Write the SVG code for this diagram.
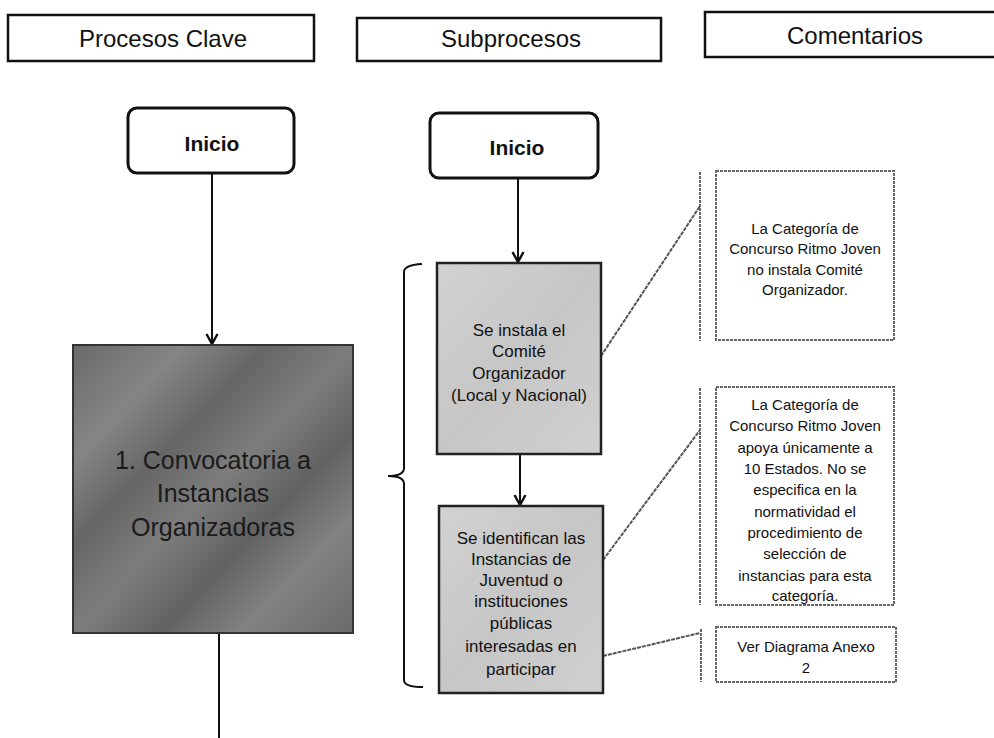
<svg xmlns="http://www.w3.org/2000/svg" width="994" height="738" viewBox="0 0 994 738">
<style>
  .hdr { fill: #ffffff; stroke: #111; stroke-width: 2.5; }
  .hdrt { font-family: "Liberation Sans", Arial, sans-serif; font-size: 24px; fill: #111; text-anchor: middle; }
  .start { fill: #ffffff; stroke: #111; stroke-width: 3; }
  .startt { font-family: "Liberation Sans", Arial, sans-serif; font-size: 21px; font-weight: bold; fill: #111; text-anchor: middle; }
  .big { fill: url(#darkTex); stroke: #333; stroke-width: 2; }
  .bigt { font-family: "Liberation Sans", Arial, sans-serif; font-size: 25px; fill: #1a1a1a; text-anchor: middle; }
  .sub { fill: url(#lightTex); stroke: #222; stroke-width: 2.5; }
  .subt { font-family: "Liberation Sans", Arial, sans-serif; font-size: 17px; fill: #111; text-anchor: middle; }
  .com { fill: #ffffff; stroke: #666; stroke-width: 2; stroke-dasharray: 3 1; }
  .bar { stroke: #666; stroke-width: 2; stroke-dasharray: 3 1; fill: none; }
  .comt { font-family: "Liberation Sans", Arial, sans-serif; font-size: 15px; fill: #111; text-anchor: middle; }
  .conn { stroke: #111; stroke-width: 2; fill: none; }
  .lead { stroke: #555; stroke-width: 2; fill: none; stroke-dasharray: 4 1; }
</style>
<defs>
  <marker id="arr" viewBox="0 0 14 14" refX="12" refY="7" markerWidth="14" markerHeight="14" markerUnits="userSpaceOnUse" orient="auto">
    <polyline points="2,1.5 12,7 2,12.5" fill="none" stroke="#111" stroke-width="2.4"/>
  </marker>
  <linearGradient id="darkTex" x1="0" y1="0" x2="1" y2="1">
    <stop offset="0" stop-color="#6a6a6a"/>
    <stop offset="0.2" stop-color="#858585"/>
    <stop offset="0.35" stop-color="#666"/>
    <stop offset="0.5" stop-color="#7d7d7d"/>
    <stop offset="0.65" stop-color="#626262"/>
    <stop offset="0.8" stop-color="#828282"/>
    <stop offset="1" stop-color="#6a6a6a"/>
  </linearGradient>
  <linearGradient id="lightTex" x1="0" y1="0" x2="1" y2="1">
    <stop offset="0" stop-color="#d2d2d2"/>
    <stop offset="0.5" stop-color="#c6c6c6"/>
    <stop offset="1" stop-color="#d0d0d0"/>
  </linearGradient>
</defs>

<g id="hdr-procesos">
  <rect class="hdr" x="8" y="15" width="306" height="46"/>
  <text class="hdrt" x="163" y="47">Procesos Clave</text>
</g>
<g id="hdr-subprocesos">
  <rect class="hdr" x="357" y="18" width="304" height="43"/>
  <text class="hdrt" x="511" y="47">Subprocesos</text>
</g>
<g id="hdr-comentarios">
  <rect class="hdr" x="705" y="12" width="292" height="45"/>
  <text class="hdrt" x="855" y="44">Comentarios</text>
</g>

<g id="connectors">
  <line class="conn" x1="212" y1="173" x2="212" y2="344" marker-end="url(#arr)"/>
  <line class="conn" x1="219" y1="633" x2="219" y2="738"/>
  <line class="conn" x1="518" y1="178" x2="518" y2="262" marker-end="url(#arr)"/>
  <line class="conn" x1="520" y1="454" x2="520" y2="505" marker-end="url(#arr)"/>
  <path class="conn" d="M422,264 Q404,265 404,272 L404,468 Q404,476 388,476 Q404,476 404,484 L404,680 Q404,687 423,687"/>
  <line class="lead" x1="601" y1="356" x2="700" y2="206"/>
  <line class="lead" x1="603" y1="560" x2="700" y2="430"/>
  <line class="lead" x1="603" y1="656" x2="700" y2="633"/>
</g>

<g id="inicio-1">
  <rect class="start" x="128" y="108" width="166" height="65" rx="9"/>
  <text class="startt" x="212" y="151">Inicio</text>
</g>
<g id="inicio-2">
  <rect class="start" x="430" y="113" width="168" height="65" rx="9"/>
  <text class="startt" x="517" y="155">Inicio</text>
</g>

<g id="proceso-1">
  <rect class="big" x="73" y="345" width="280" height="288"/>
  <text class="bigt" x="213" y="469">1. Convocatoria a</text>
  <text class="bigt" x="213" y="502">Instancias</text>
  <text class="bigt" x="213" y="536">Organizadoras</text>
</g>

<g id="sub-1">
  <rect class="sub" x="437" y="263" width="164" height="191"/>
  <text class="subt" x="519" y="336">Se instala el</text>
  <text class="subt" x="519" y="357">Comité</text>
  <text class="subt" x="519" y="379">Organizador</text>
  <text class="subt" x="519" y="401">(Local y Nacional)</text>
</g>
<g id="sub-2">
  <rect class="sub" x="439" y="506" width="164" height="187"/>
  <text class="subt" x="521" y="544">Se identifican las</text>
  <text class="subt" x="521" y="565">Instancias de</text>
  <text class="subt" x="521" y="586">Juventud o</text>
  <text class="subt" x="521" y="607">instituciones</text>
  <text class="subt" x="521" y="629">públicas</text>
  <text class="subt" x="521" y="652">interesadas en</text>
  <text class="subt" x="521" y="675">participar</text>
</g>

<g id="comentario-1">
  <line class="bar" x1="700" y1="172" x2="700" y2="341"/>
  <rect class="com" x="716" y="171" width="178" height="169"/>
  <text class="comt" x="805" y="234">La Categoría de</text>
  <text class="comt" x="805" y="254">Concurso Ritmo Joven</text>
  <text class="comt" x="805" y="275">no instala Comité</text>
  <text class="comt" x="805" y="295">Organizador.</text>
</g>
<g id="comentario-2">
  <line class="bar" x1="700" y1="388" x2="700" y2="605"/>
  <rect class="com" x="716" y="387" width="178" height="218"/>
  <text class="comt" x="805" y="410">La Categoría de</text>
  <text class="comt" x="805" y="431">Concurso Ritmo Joven</text>
  <text class="comt" x="805" y="453">apoya únicamente a</text>
  <text class="comt" x="805" y="474">10 Estados. No se</text>
  <text class="comt" x="805" y="495">especifica en la</text>
  <text class="comt" x="805" y="517">normatividad el</text>
  <text class="comt" x="805" y="538">procedimiento de</text>
  <text class="comt" x="805" y="559">selección de</text>
  <text class="comt" x="805" y="581">instancias para esta</text>
  <text class="comt" x="805" y="601">categoría.</text>
</g>
<g id="comentario-3">
  <line class="bar" x1="701" y1="629" x2="701" y2="682"/>
  <rect class="com" x="716" y="627" width="180" height="55"/>
  <text class="comt" x="806" y="652">Ver Diagrama Anexo</text>
  <text class="comt" x="806" y="673">2</text>
</g>
</svg>
